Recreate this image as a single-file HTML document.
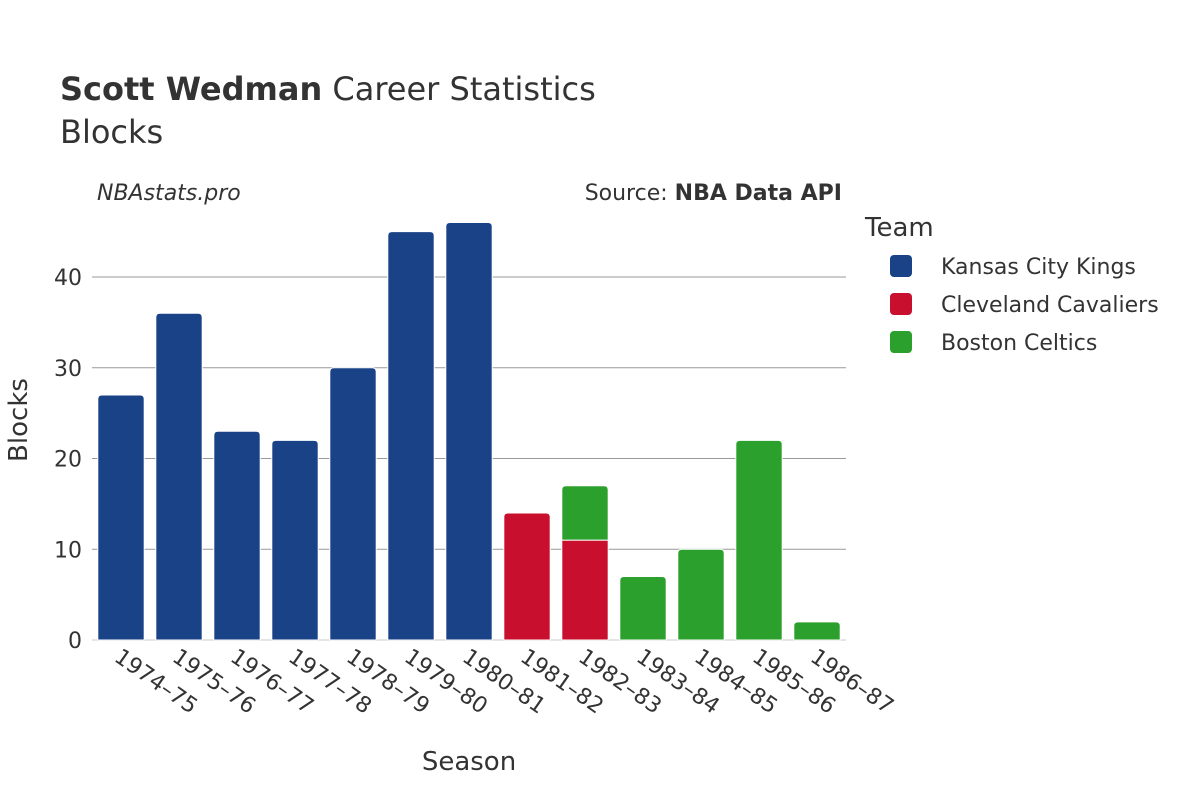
<!DOCTYPE html>
<html><head><meta charset="utf-8"><style>
body{margin:0;background:#fff;font-family:"Liberation Sans","DejaVu Sans",sans-serif;}
svg text{font-family:"DejaVu Sans","Liberation Sans",sans-serif;fill:#333;}
</style></head><body>
<svg id="chart" width="1200" height="800" viewBox="0 0 1200 800">
<text x="60" y="100" font-size="32"><tspan font-weight="bold">Scott Wedman</tspan> Career Statistics</text>
<text x="60" y="143" font-size="32">Blocks</text>
<text x="97" y="200" font-size="22" font-style="italic">NBAstats.pro</text>
<text x="842" y="200" font-size="22" text-anchor="end">Source: <tspan font-weight="bold">NBA Data API</tspan></text>
<g id="grid"></g>
<g id="bars"></g>
<g id="xticks"></g>
<text x="469" y="770" font-size="26" text-anchor="middle">Season</text>
<text transform="translate(27,420) rotate(-90)" font-size="26" text-anchor="middle">Blocks</text>
<text x="865" y="236" font-size="26">Team</text>
<g id="legend"></g>
</svg>
<script>
const seasons=["1974-75","1975-76","1976-77","1977-78","1978-79","1979-80","1980-81","1981-82","1982-83","1983-84","1984-85","1985-86","1986-87"];
const kings=[27,36,23,22,30,45,46,0,0,0,0,0,0];
const cavs=[0,0,0,0,0,0,0,14,11,0,0,0,0];
const celtics=[0,0,0,0,0,0,0,0,6,7,10,22,2];
const yTicks=[0,10,20,30,40];
const teams=["Kansas City Kings","Cleveland Cavaliers","Boston Celtics"];
const colors=["#1a4287","#c8102e","#2ca02c"];
const NS="http://www.w3.org/2000/svg";
const x0=92,x1=846,y0=640,pxPer=9.075;
const bw=(x1-x0)/seasons.length;
const X=i=>x0+bw*i+bw/2;
const Y=v=>y0-v*pxPer;
function mk(t,a,p){const e=document.createElementNS(NS,t);for(const k in a)e.setAttribute(k,a[k]);p.appendChild(e);return e;}
const grid=document.getElementById('grid');
yTicks.forEach(v=>{
 const l=mk('line',{x1:x0,x2:x1,y1:Y(v),y2:Y(v),stroke:v===0?'#e5e5e5':'#999','stroke-width':v===0?2:1},grid);
 
 
 const t=mk('text',{x:x0-10,y:Y(v)+8,'font-size':22,'text-anchor':'end'},grid);
 t.textContent=v;
 
 
});
const bars=document.getElementById('bars');
const series=[kings,cavs,celtics];
function barPath(x,yb,yt,w,r,round){
 if(!round||yb-yt<r)return `M${x},${yb}V${yt}H${x+w}V${yb}Z`;
 return `M${x},${yb}V${yt+r}Q${x},${yt} ${x+r},${yt}H${x+w-r}Q${x+w},${yt} ${x+w},${yt+r}V${yb}Z`;
}
seasons.forEach((s,i)=>{
 let base=0;
 const top=series.reduce((m,sr,k)=>sr[i]>0?k:m,-1);
 series.forEach((sr,k)=>{
  const v=sr[i]; if(!v)return;
  const w=bw*0.8,x=X(i)-w/2;
  const p=mk('path',{d:barPath(x,Y(base),Y(base+v),w,4,k===top),fill:colors[k],stroke:'#fff','stroke-width':1},bars);
  
  
  base+=v;
 });
});
const xt=document.getElementById('xticks');
seasons.forEach((s,i)=>{
 const t=mk('text',{transform:`translate(${X(i)-8},${y0+20}) rotate(35)`,'font-size':22},xt);
 t.textContent=s.replace('-','\u2013');
 
 
});
const lg=document.getElementById('legend');
teams.forEach((t,k)=>{
 const y=266+k*38;
 const r=mk('rect',{x:890,y:y-11,width:22,height:22,rx:4,fill:colors[k]},lg);
 
 
 const tx=mk('text',{x:941,y:y+8,'font-size':22},lg);
 tx.textContent=t;
 
 
});
</script>
</body></html>
